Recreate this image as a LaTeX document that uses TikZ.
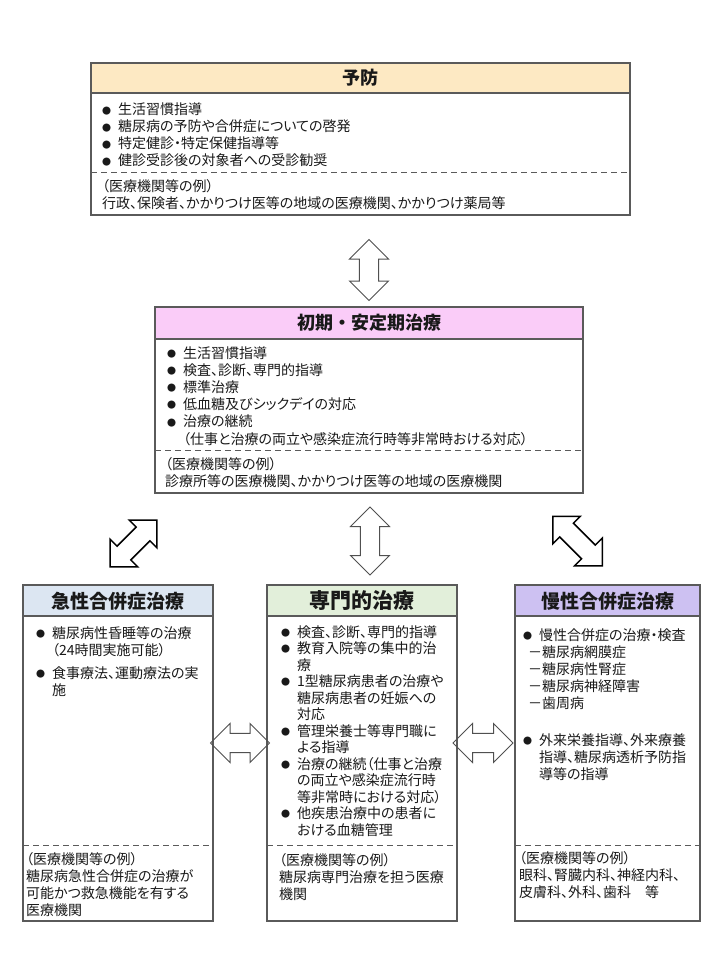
\documentclass[tikz,border=0pt]{standalone}
\usepackage{fontspec}
\setmainfont{Noto Sans CJK JP}
\newfontfamily\jpp[RawFeature=+palt]{Noto Sans CJK JP}
\definecolor{hdrA}{RGB}{253,233,195}
\definecolor{hdrB}{RGB}{250,204,248}
\definecolor{hdrC}{RGB}{220,230,242}
\definecolor{hdrD}{RGB}{226,239,218}
\definecolor{hdrE}{RGB}{205,193,242}
\definecolor{bordc}{RGB}{90,90,90}
\definecolor{arrc}{RGB}{80,80,80}
\definecolor{txtc}{RGB}{25,25,25}
\newcommand\bl{\makebox[16pt][l]{\raisebox{0.8pt}{\fontsize{9}{9}\selectfont ●}}}
\newcommand\ind{\hspace*{16pt}}
\newcommand\dblarrow[5]{%
 \begin{scope}[shift={(#1,#2)}, rotate=#3]
 \draw[#5] ({#4/2},0) -- ({#4/2-19.5},19.5) -- ({#4/2-19.5},9.7) -- ({-#4/2+19.5},9.7) -- ({-#4/2+19.5},19.5) -- ({-#4/2},0) -- ({-#4/2+19.5},-19.5) -- ({-#4/2+19.5},-9.7) -- ({#4/2-19.5},-9.7) -- ({#4/2-19.5},-19.5) -- cycle;
 \end{scope}}
\tikzset{
 boxline/.style={draw=bordc, line width=1.3pt},
 dashsep/.style={draw=bordc, line width=1pt, dash pattern=on 6pt off 4pt},
 ttl/.style={inner sep=0, text=txtc, font=\fontsize{18}{20}\selectfont\bfseries},
 ttlb/.style={inner sep=0, text=txtc, font=\fontsize{19}{21}\selectfont\bfseries},
 body/.style={anchor=base west, inner sep=0, text=txtc, font=\jpp\fontsize{14}{17}\selectfont},
 bodym/.style={anchor=base west, inner sep=0, text=txtc, font=\jpp\fontsize{14}{17.2}\selectfont},
 bodys/.style={anchor=base west, inner sep=0, text=txtc, font=\jpp\fontsize{14}{16.5}\selectfont},
 barrow/.style={draw=arrc, line width=1pt, line join=miter},
 darrow/.style={draw=black, line width=1.5pt, line join=miter}
}
\begin{document}
\begin{tikzpicture}[x=1pt,y=-1pt]
\useasboundingbox (0,0) rectangle (720,960);
\fill[white] (0,0) rectangle (720,960);

% ---- 予防 ----
\fill[hdrA] (91,63) rectangle (630,93);
\draw[boxline] (91,93) -- (630,93);
\draw[dashsep] (91,173) -- (630,173);
\draw[boxline] (91,63) rectangle (630,215);
\node[ttl] (t1) at (360.5,78) {予防};
\node[body] (b1) at (102,115) {\parbox[t]{520pt}{\raggedright
\bl 生活習慣指導\\
\bl 糖尿病の予防や合併症についての啓発\\
\bl 特定健診・特定保健指導等\\
\bl 健診受診後の対象者への受診勧奨}};
\node[body] (e1) at (102,192) {\parbox[t]{520pt}{\raggedright
（医療機関等の例）\\
行政、保険者、かかりつけ医等の地域の医療機関、かかりつけ薬局等}};

% ---- 初期・安定期治療 ----
\fill[hdrB] (155,307) rectangle (583,339);
\draw[boxline] (155,339) -- (583,339);
\draw[dashsep] (155,450) -- (583,450);
\draw[boxline] (155,307) rectangle (583,493);
\node[ttl] (t2) at (369,323) {初期・安定期治療};
\node[bodym] (b2) at (167,358) {\parbox[t]{410pt}{\raggedright
\bl 生活習慣指導\\
\bl 検査、診断、専門的指導\\
\bl 標準治療\\
\bl 低血糖及びシックデイの対応\\
\bl 治療の継続\\
\ind （仕事と治療の両立や感染症流行時等非常時おける対応）}};
\node[body] (e2) at (165,469) {\parbox[t]{410pt}{\raggedright
（医療機関等の例）\\
診療所等の医療機関、かかりつけ医等の地域の医療機関}};

% ---- 急性合併症治療 ----
\fill[hdrC] (23,585) rectangle (213,616);
\draw[boxline] (23,616) -- (213,616);
\draw[dashsep] (23,845) -- (213,845);
\draw[boxline] (23,585) rectangle (213,921);
\node[ttlb] (t3) at (118,601) {急性合併症治療};
\node[body] (b3) at (36,638) {\parbox[t]{180pt}{\raggedright
\bl 糖尿病性昏睡等の治療\\
\ind （24時間実施可能）\\[6pt]
\bl 食事療法、運動療法の実\\
\ind 施}};
\node[body] (e3) at (26,864) {\parbox[t]{185pt}{\raggedright
（医療機関等の例）\\
糖尿病急性合併症の治療が\\
可能かつ救急機能を有する\\
医療機関}};

% ---- 専門的治療 ----
\fill[hdrD] (267,585) rectangle (457,616);
\draw[boxline] (267,616) -- (457,616);
\draw[dashsep] (267,845) -- (457,845);
\draw[boxline] (267,585) rectangle (457,921);
\node[inner sep=0, text=txtc, font=\fontsize{21}{23}\selectfont\bfseries] (t4) at (362,601) {専門的治療};
\node[bodys] (b4) at (281,637) {\parbox[t]{180pt}{\raggedright
\bl 検査、診断、専門的指導\\
\bl 教育入院等の集中的治\\
\ind 療\\
\bl 1型糖尿病患者の治療や\\
\ind 糖尿病患者の妊娠への\\
\ind 対応\\
\bl 管理栄養士等専門職に\\
\ind よる指導\\
\bl 治療の継続（仕事と治療\\
\ind の両立や感染症流行時\\
\ind 等非常時における対応）\\
\bl 他疾患治療中の患者に\\
\ind おける血糖管理}};
\node[body] (e4) at (279,865) {\parbox[t]{180pt}{\raggedright
（医療機関等の例）\\
糖尿病専門治療を担う医療\\
機関}};

% ---- 慢性合併症治療 ----
\fill[hdrE] (515,585) rectangle (700,616);
\draw[boxline] (515,616) -- (700,616);
\draw[dashsep] (515,845) -- (700,845);
\draw[boxline] (515,585) rectangle (700,921);
\node[ttlb] (t5) at (607.5,601) {慢性合併症治療};
\node[body] (b5) at (523,640) {\parbox[t]{180pt}{\raggedright
\bl 慢性合併症の治療・検査\\
\hspace*{5pt}－糖尿病網膜症\\
\hspace*{5pt}－糖尿病性腎症\\
\hspace*{5pt}－糖尿病神経障害\\
\hspace*{5pt}－歯周病\\[20pt]
\bl 外来栄養指導、外来療養\\
\ind 指導、糖尿病透析予防指\\
\ind 導等の指導}};
\node[body] (e5) at (519,863) {\parbox[t]{180pt}{\raggedright
（医療機関等の例）\\
眼科、腎臓内科、神経内科、\\
皮膚科、外科、歯科　等}};

% ---- block arrows ----
\dblarrow{369}{270}{90}{61}{barrow}
\dblarrow{370}{541}{90}{68}{barrow}
\dblarrow{133.5}{543.5}{45}{66}{darrow}
\dblarrow{577.5}{541}{-45}{70}{darrow}
\dblarrow{240}{743}{0}{59}{barrow}
\dblarrow{483}{743}{0}{60}{barrow}
\end{tikzpicture}
\end{document}
